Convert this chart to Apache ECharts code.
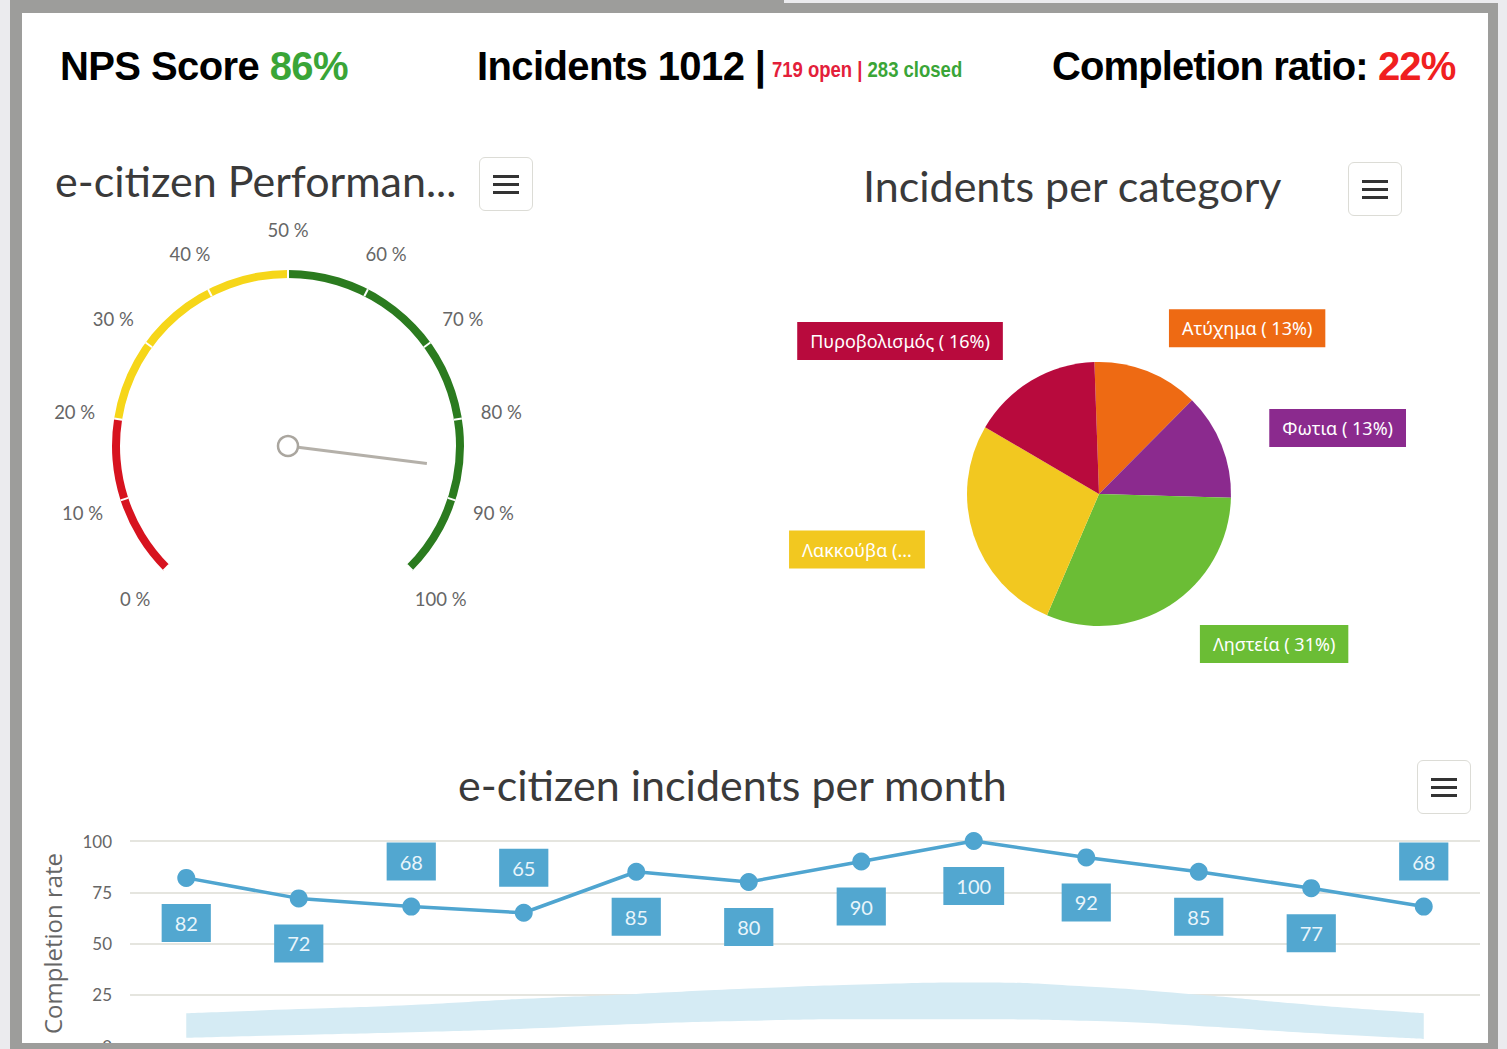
<!DOCTYPE html>
<html>
<head>
<meta charset="utf-8">
<title>e-citizen dashboard</title>
<script src="https://cdn.jsdelivr.net/npm/echarts@6/dist/echarts.min.js"></script>
<style>
  html, body { margin: 0; padding: 0; }
  body { width: 1507px; height: 1049px; background: #ebebee; position: relative; overflow: hidden; font-family: 'Liberation Sans', Arial, sans-serif; }
  .frame { position: absolute; left: 10px; top: 3px; width: 1488px; height: 1046px; background: #9d9d9b; }
  .frame-tab { position: absolute; left: 10px; top: 0; width: 774px; height: 3px; background: #9d9d9b; }
  .panel { position: absolute; left: 22px; top: 13px; width: 1466px; height: 1030px; background: #fff; overflow: hidden; }
  #chart { position: absolute; left: 0; top: 0; width: 1466px; height: 1030px; }
  .kpi { position: absolute; top: 31px; font-weight: bold; font-size: 40px; letter-spacing: -0.6px; color: #000; white-space: nowrap; line-height: 44px; }
  .kpi small { font-size: 18.5px; letter-spacing: 0; display: inline-block; transform: scaleY(1.2); transform-origin: bottom; margin-left: -4px; }
  .green { color: #3aa537; }
  .red { color: #f0201f; }
  .pink { color: #e3203a; }
  .menu { position: absolute; width: 52px; height: 52px; border: 1.5px solid #dcdcd6; border-radius: 6px; background: #fff; }
  .menu i { position: absolute; left: 13px; width: 26px; height: 3px; background: #333; }
</style>
</head>
<body>
<div class="frame-tab"></div>
<div class="frame"></div>
<div class="panel">
  <div id="chart"></div>
  <div class="kpi" style="left:38px">NPS Score <span class="green">86%</span></div>
  <div class="kpi" style="left:455px">Incidents 1012 | <small><span class="pink">719 open</span> <span class="pink">|</span> <span class="green">283 closed</span></small></div>
  <div class="kpi" style="left:1030px;letter-spacing:-0.9px">Completion ratio: <span class="red">22%</span></div>
  <div class="menu" style="left:457px;top:144px"><i style="top:17px"></i><i style="top:25px"></i><i style="top:33px"></i></div>
  <div class="menu" style="left:1326px;top:149px"><i style="top:17px"></i><i style="top:25px"></i><i style="top:33px"></i></div>
  <div class="menu" style="left:1395px;top:747px"><i style="top:17px"></i><i style="top:25px"></i><i style="top:33px"></i></div>
</div>
<script>
// gauge
const npsScore = 86;
const gaugeStops = [0.2, 0.5, 1];
const gaugeColors = ['#d7131f', '#f6d619', '#2b7b1f'];

// pie
const categoryNames = ['Ατύχημα', 'Φωτια', 'Ληστεία', 'Λακκούβα', 'Πυροβολισμός'];
const categoryValues = [13, 13, 31, 27, 16];
const categoryColors = ['#ee6a13', '#8b2a8e', '#6bbd35', '#f2c820', '#b80a3d'];

// line
const months = ['Jan', 'Feb', 'Mar', 'Apr', 'May', 'Jun', 'Jul', 'Aug', 'Sep', 'Oct', 'Nov', 'Dec'];
const completionRate = [82, 72, 68, 65, 85, 80, 90, 100, 92, 85, 77, 68];
const rangeLow = [4, 5.4, 6.7, 8.4, 10.7, 12.3, 13, 13, 12.3, 9.8, 6.3, 3.4];
const rangeHigh = [16, 18, 20, 23, 25.4, 28, 30, 31, 29, 25, 20, 16];
const labelSide = ['bottom', 'bottom', 'top', 'top', 'bottom', 'bottom', 'bottom', 'bottom', 'bottom', 'bottom', 'bottom', 'top'];

const lineBlue = '#4fa5d0';
const titleFont = { fontFamily: 'Lato', fontSize: 43, fontWeight: 'normal', color: '#3a3a3a' };
const pieLabelFont = '18px "Noto Sans"';

// cut a label down to maxWidth px, ending with "..."
const measureCtx = document.createElement('canvas').getContext('2d');
function fitText(text, maxWidth) {
  measureCtx.font = pieLabelFont;
  if (measureCtx.measureText(text).width <= maxWidth) return text;
  let t = text;
  while (t.length > 1 && measureCtx.measureText(t + '...').width > maxWidth) t = t.slice(0, -1);
  return t + '...';
}

const pieLabelText = p => p.name + ' ( ' + Math.round(p.percent) + '%)';

const chart = echarts.init(document.getElementById('chart'), null, { renderer: 'svg' });

const option = {
  animation: false,
  title: [
    { text: 'e-citizen Performan...', left: 28, top: 141, textStyle: titleFont },
    { text: 'Incidents per category', left: 836, top: 146, textStyle: titleFont },
    { text: 'e-citizen incidents per month', left: 431, top: 745, textStyle: titleFont }
  ],
  grid: {
    left: 108, right: 8, top: 828, bottom: -3,
    containLabel: false,
    outerBoundsMode: 'none'
  },
  xAxis: {
    type: 'category',
    data: months,
    boundaryGap: true,
    axisLine: { show: false },
    axisTick: { show: false },
    axisLabel: { show: false }
  },
  yAxis: {
    type: 'value',
    min: 0, max: 100, interval: 25,
    name: 'Completion rate',
    nameLocation: 'middle',
    nameRotate: 90,
    nameGap: 66,
    nameTextStyle: { fontFamily: 'Open Sans', fontSize: 24, color: '#666' },
    axisLine: { show: false },
    axisTick: { show: false },
    axisLabel: { color: '#666', fontFamily: 'Lato', fontSize: 17, margin: 18 },
    splitLine: { lineStyle: { color: '#dcdcd4', width: 1.5 } }
  },
  series: [
    {
      type: 'gauge',
      center: [266, 433],
      radius: 176,
      startAngle: 225,
      endAngle: -45,
      min: 0, max: 100,
      splitNumber: 10,
      axisLine: {
        lineStyle: { width: 8, color: gaugeStops.map((s, i) => [s, gaugeColors[i]]) }
      },
      splitLine: { show: true, distance: -8, length: 8, lineStyle: { color: '#fff', width: 2 } },
      axisTick: { show: false },
      axisLabel: {
        distance: -40,
        rotate: 0.001,
        color: '#666',
        fontFamily: 'Lato',
        fontSize: 18.5,
        formatter: v => v + ' %'
      },
      pointer: { icon: 'rect', width: 3, length: 140, offsetCenter: [0, 0], itemStyle: { color: '#b4b0a9' } },
      anchor: { show: true, showAbove: true, size: 20, itemStyle: { color: '#fff', borderColor: '#aaa69f', borderWidth: 2.5 } },
      title: { show: false },
      detail: { show: false },
      data: [{ value: npsScore }]
    },
    {
      type: 'pie',
      center: [1077, 481],
      radius: 132,
      startAngle: 92,
      clockwise: true,
      avoidLabelOverlap: false,
      emphasis: { disabled: true },
      labelLine: { show: false, length: 46, length2: 0 },
      label: {
        position: 'outside',
        alignTo: 'none',
        color: '#fff',
        fontFamily: 'Noto Sans',
        fontSize: 18,
        padding: [10, 13],
        formatter: pieLabelText
      },
      data: categoryNames.map((name, i) => ({
        name: name,
        value: categoryValues[i],
        itemStyle: { color: categoryColors[i] },
        label: name === 'Λακκούβα'
          ? { backgroundColor: categoryColors[i], formatter: p => fitText(pieLabelText(p), 114) }
          : { backgroundColor: categoryColors[i] }
      }))
    },
    {
      name: 'rangeBase',
      type: 'line',
      stack: 'range',
      smooth: true,
      symbol: 'none',
      lineStyle: { opacity: 0 },
      silent: true,
      data: rangeLow
    },
    {
      name: 'range',
      type: 'line',
      stack: 'range',
      smooth: true,
      symbol: 'none',
      lineStyle: { opacity: 0 },
      areaStyle: { color: '#d5ebf4', opacity: 1 },
      silent: true,
      data: rangeHigh.map((h, i) => h - rangeLow[i])
    },
    {
      name: 'Completion rate',
      type: 'line',
      symbol: 'circle',
      symbolSize: 18,
      lineStyle: { color: lineBlue, width: 3.5 },
      itemStyle: { color: lineBlue },
      label: {
        show: true,
        distance: 17,
        backgroundColor: '#52a7d0',
        color: '#e9f5fb',
        fontFamily: 'Lato',
        fontSize: 20,
        padding: [9, 13]
      },
      data: completionRate.map((v, i) => ({ value: v, label: { position: labelSide[i] } }))
    }
  ]
};

chart.setOption(option);
</script>
</body>
</html>
